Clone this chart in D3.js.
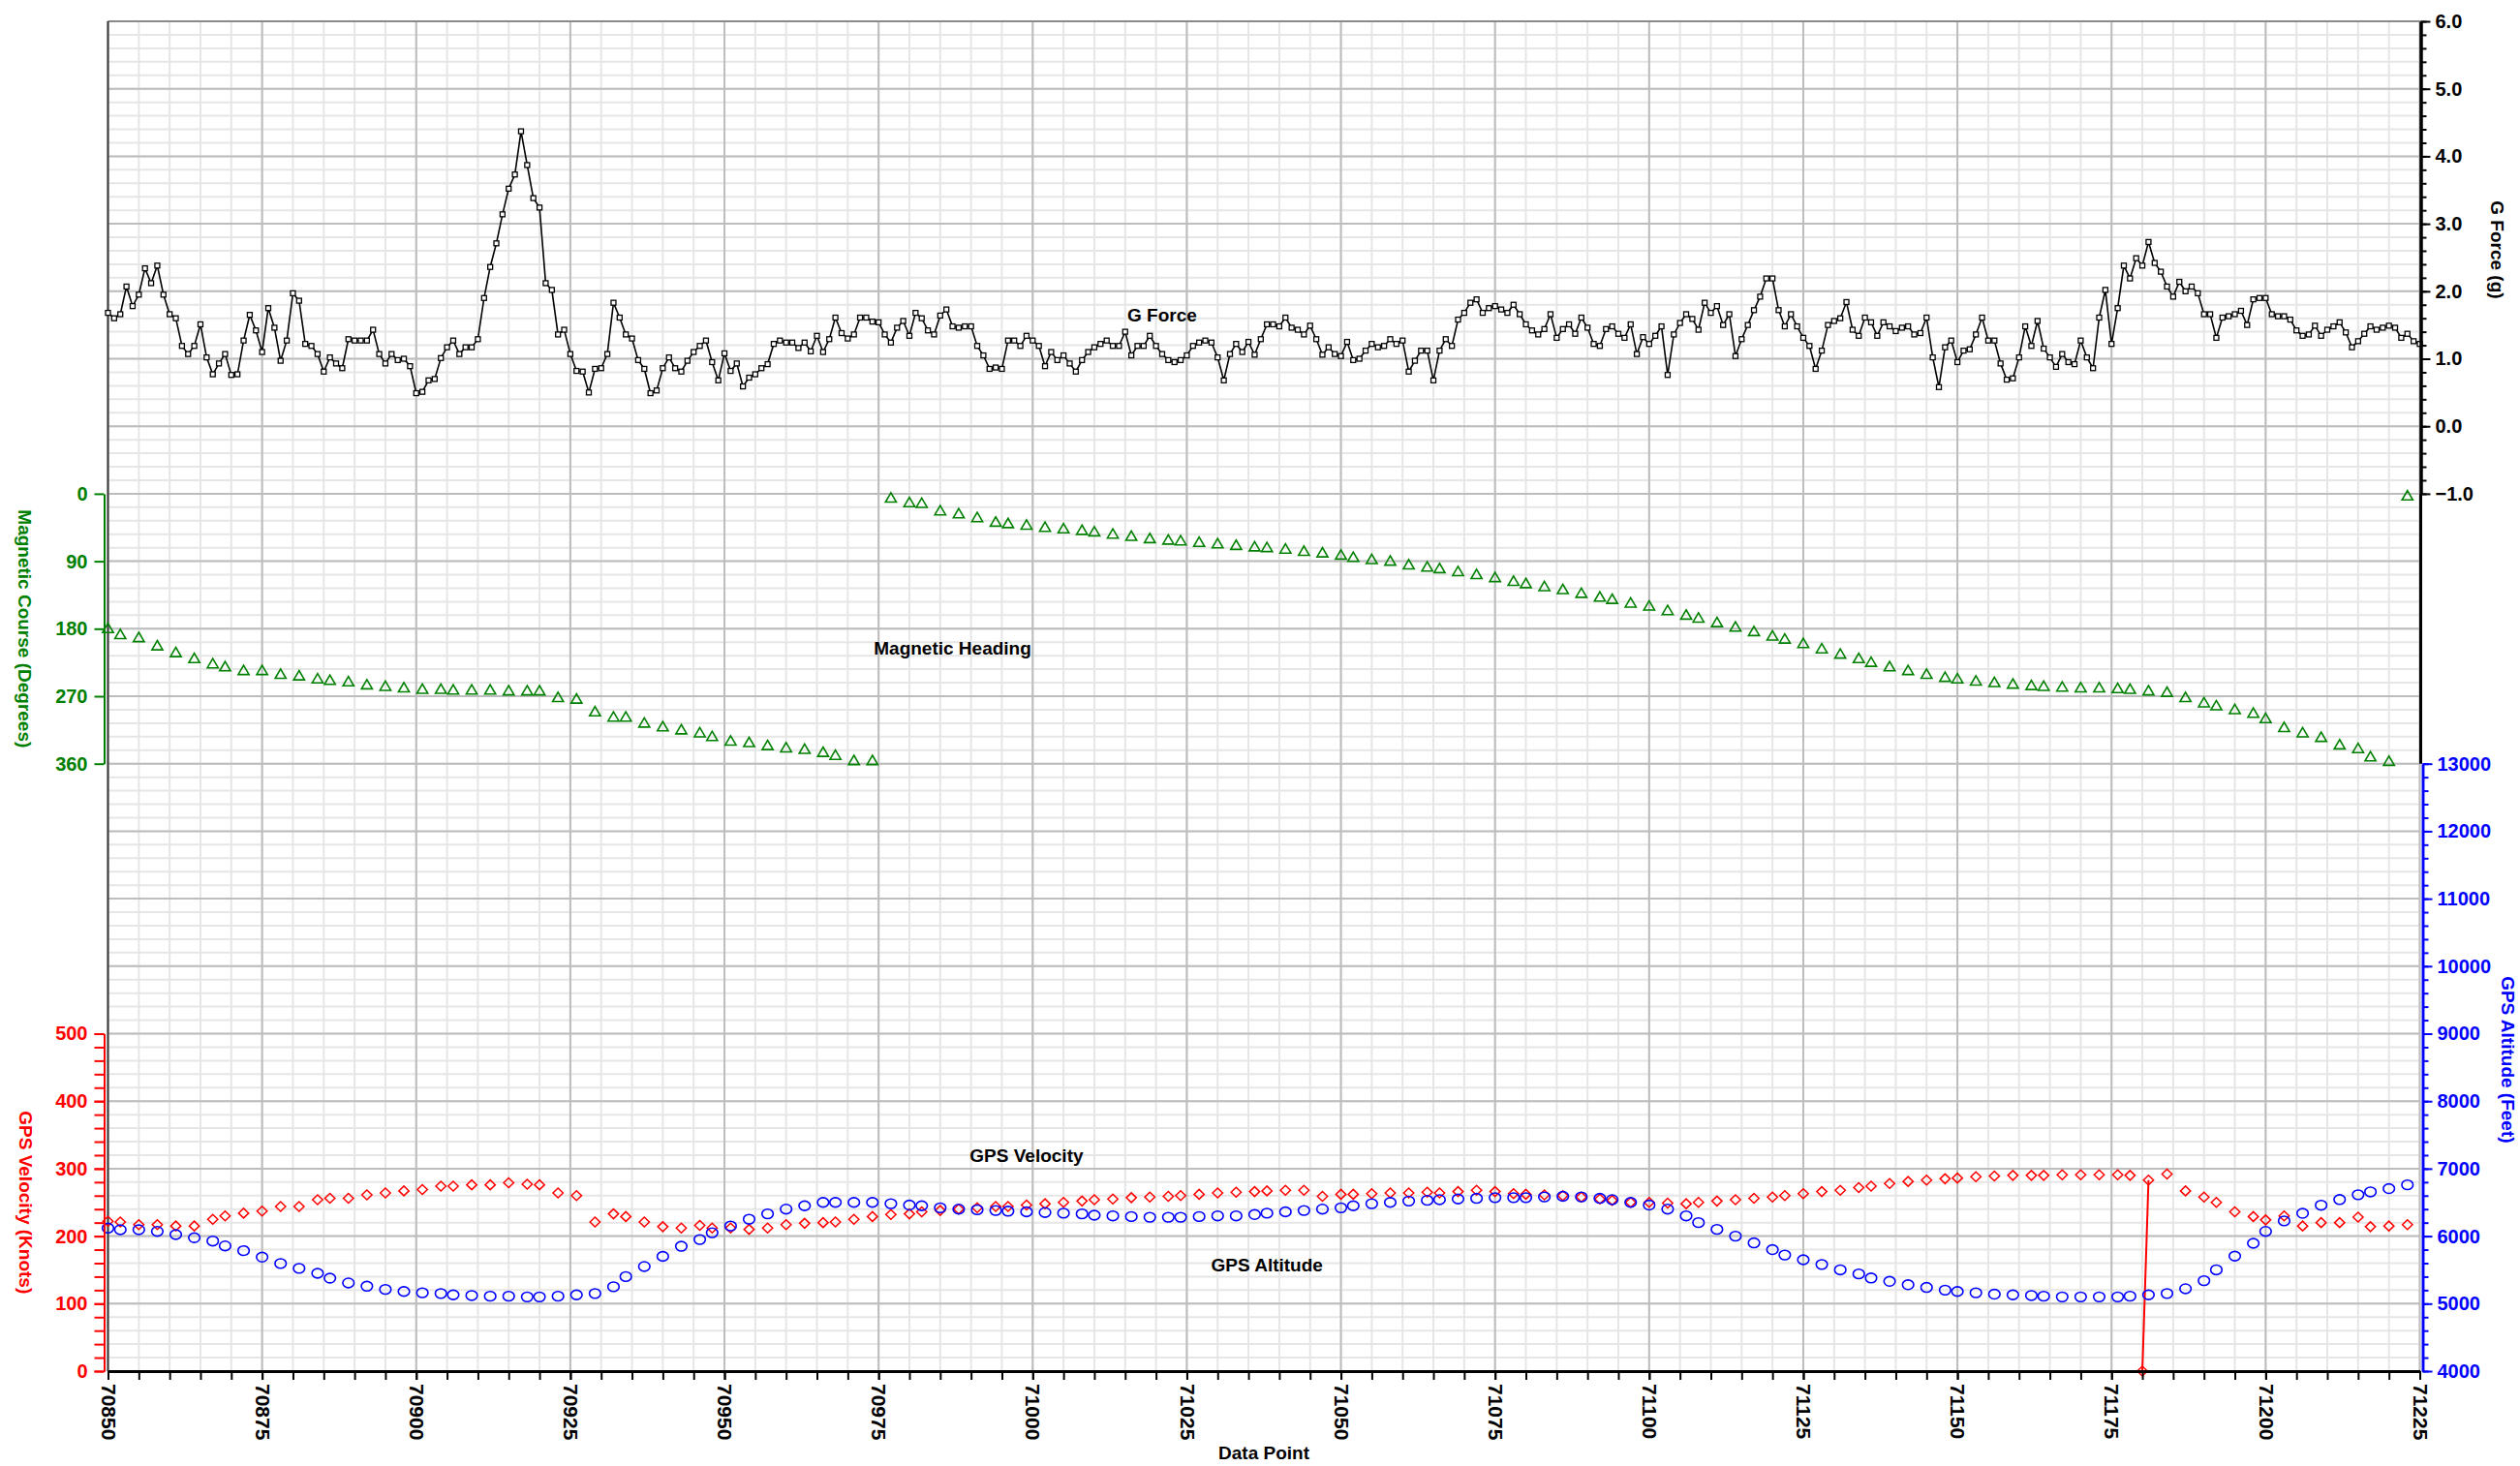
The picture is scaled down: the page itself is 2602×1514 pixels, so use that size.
<!DOCTYPE html>
<html>
<head>
<meta charset="utf-8">
<script src="https://cdn.jsdelivr.net/npm/d3@7"></script>
<style>
  html, body { margin: 0; padding: 0; background: #ffffff; }
  svg { display: block; }
  text { font-family: "Liberation Sans", Arial, sans-serif; font-weight: bold; }
</style>
</head>
<body>
<svg id="chart" width="2602" height="1514"></svg>
<script>
// ---- Data -------------------------------------------------------------

const firstDataPoint = 70850;
const lastDataPoint = 71225;

// G force, one reading per data point (70850 .. 71225)
const gForce = [
  1.68,1.60,1.66,2.07,1.78,1.95,2.34,2.12,2.38,1.95,
  1.66,1.60,1.19,1.07,1.19,1.51,1.02,0.77,0.93,1.07,
  0.76,0.77,1.27,1.65,1.42,1.10,1.75,1.46,0.97,1.27,
  1.97,1.86,1.22,1.19,1.07,0.81,1.02,0.93,0.86,1.29,
  1.27,1.27,1.27,1.43,1.07,0.93,1.07,0.98,1.00,0.89,
  0.49,0.51,0.68,0.70,1.01,1.17,1.27,1.07,1.17,1.17,
  1.29,1.90,2.36,2.71,3.14,3.52,3.73,4.37,3.87,3.38,
  3.24,2.12,2.02,1.36,1.43,1.07,0.82,0.81,0.50,0.85,
  0.86,1.07,1.83,1.61,1.36,1.30,0.98,0.85,0.49,0.53,
  0.86,1.02,0.86,0.81,0.97,1.10,1.19,1.27,0.95,0.68,
  1.08,0.82,0.93,0.59,0.72,0.77,0.86,0.92,1.22,1.27,
  1.24,1.24,1.16,1.24,1.11,1.34,1.10,1.29,1.61,1.38,
  1.30,1.36,1.61,1.61,1.55,1.54,1.36,1.24,1.46,1.56,
  1.34,1.68,1.60,1.42,1.36,1.64,1.73,1.48,1.46,1.48,
  1.48,1.19,1.05,0.85,0.87,0.85,1.27,1.27,1.19,1.34,
  1.27,1.19,0.89,1.10,0.98,1.05,0.93,0.81,0.98,1.10,
  1.17,1.22,1.27,1.19,1.19,1.40,1.05,1.19,1.19,1.34,
  1.19,1.07,0.98,0.95,0.98,1.05,1.19,1.24,1.27,1.24,
  1.02,0.68,1.07,1.22,1.10,1.25,1.06,1.29,1.51,1.51,
  1.48,1.61,1.46,1.43,1.36,1.49,1.29,1.06,1.17,1.07,
  1.04,1.25,0.98,1.00,1.12,1.22,1.17,1.19,1.29,1.22,
  1.27,0.81,0.97,1.12,1.12,0.68,1.12,1.29,1.19,1.58,
  1.68,1.83,1.88,1.68,1.75,1.78,1.73,1.68,1.80,1.66,
  1.51,1.42,1.36,1.44,1.66,1.31,1.44,1.51,1.37,1.61,
  1.46,1.22,1.19,1.44,1.48,1.37,1.31,1.51,1.07,1.32,
  1.22,1.34,1.48,0.76,1.36,1.53,1.66,1.59,1.43,1.83,
  1.68,1.78,1.50,1.66,1.04,1.29,1.50,1.72,1.92,2.19,
  2.19,1.72,1.48,1.66,1.48,1.31,1.19,0.85,1.12,1.50,
  1.56,1.60,1.84,1.43,1.34,1.61,1.54,1.34,1.54,1.48,
  1.41,1.46,1.48,1.36,1.38,1.61,1.02,0.58,1.17,1.27,
  0.95,1.12,1.14,1.36,1.61,1.27,1.27,0.93,0.69,0.71,
  1.02,1.48,1.19,1.56,1.15,1.02,0.88,1.07,0.95,0.92,
  1.27,1.02,0.86,1.61,2.02,1.22,1.75,2.38,2.19,2.49,
  2.38,2.73,2.42,2.29,2.07,1.92,2.14,2.00,2.07,1.97,
  1.66,1.66,1.31,1.61,1.63,1.66,1.71,1.50,1.88,1.90,
  1.90,1.66,1.63,1.63,1.58,1.42,1.34,1.36,1.49,1.34,
  1.43,1.48,1.54,1.39,1.17,1.26,1.37,1.48,1.43,1.46,
  1.49,1.46,1.31,1.37,1.26,1.22
];

// GPS samples: offset of each sample from the first data point
const gpsOffsets = [
  0,2,5,8,11,14,17,19,22,25,28,31,34,36,39,42,45,48,51,54,
  56,59,62,65,68,70,73,76,79,82,84,87,90,93,96,98,101,104,107,110,
  113,116,118,121,124,127,130,132,135,138,141,144,146,149,152,155,158,160,163,166,
  169,172,174,177,180,183,186,188,191,194,197,200,202,205,208,211,214,216,219,222,
  225,228,230,233,236,239,242,244,247,250,253,256,258,261,264,267,270,272,275,278,
  281,284,286,289,292,295,298,300,303,306,309,312,314,317,320,323,326,328,330,331,
  334,337,340,342,345,348,350,353,356,359,362,365,367,370,373
];

// Magnetic heading (degrees) at each GPS sample
const magneticHeading = [
  180,188,192,203,212,220,227,231,236,236,241,243,247,249,251,255,257,259,261,261,
  262,262,262,263,263,263,272,274,291,298,298,306,311,315,319,324,330,332,336,339,
  341,345,349,356,356,6,12,13,23,27,32,38,40,42,45,47,49,51,54,57,
  60,62,63,65,67,69,71,72,74,77,79,82,85,88,90,95,98,100,104,108,
  112,117,120,124,128,133,138,141,146,150,156,162,166,172,178,184,190,194,200,207,
  214,220,225,231,236,241,245,247,250,252,254,256,257,258,259,259,260,261,null,263,
  265,272,279,283,288,293,300,312,319,325,335,340,351,357,3
];

// GPS velocity (knots) at each GPS sample
const gpsVelocity = [
  222,221,217,217,215,215,225,230,234,237,244,244,254,256,256,261,264,267,269,274,
  274,276,276,279,277,276,264,260,221,233,229,221,214,212,216,212,212,210,212,217,
  219,220,221,225,229,232,233,236,238,240,242,244,244,246,248,250,252,254,255,257,
  258,259,260,262,264,265,266,267,268,268,259,262,262,263,264,264,265,264,266,268,
  266,263,262,261,260,258,255,253,250,250,249,248,250,252,254,256,258,260,263,266,
  268,272,274,278,281,283,285,286,288,289,290,290,290,291,291,291,291,290,0,283,
  292,267,258,250,236,229,224,230,215,220,220,228,214,215,217
];

// GPS altitude (feet) at each GPS sample
const gpsAltitude = [
  6119,6095,6095,6070,6023,5976,5927,5855,5784,5689,5594,5522,5449,5377,5306,5258,5210,5180,5160,5150,
  5130,5120,5110,5110,5100,5100,5110,5130,5150,5250,5400,5550,5700,5850,5950,6050,6150,6250,6330,6400,
  6450,6500,6500,6500,6500,6480,6460,6450,6420,6400,6390,6380,6370,6360,6350,6340,6330,6310,6300,6290,
  6280,6280,6280,6290,6300,6300,6320,6340,6360,6380,6400,6420,6450,6480,6500,6520,6530,6540,6550,6560,
  6570,6570,6570,6580,6590,6580,6560,6540,6500,6460,6400,6300,6200,6100,6000,5900,5800,5720,5650,5580,
  5500,5440,5380,5330,5280,5240,5200,5180,5160,5140,5130,5120,5110,5100,5100,5100,5100,5110,null,5130,
  5150,5220,5340,5500,5704,5894,6070,6225,6338,6458,6542,6613,6655,6704,6760
];

// Axis ticks and labels
const xTickLabels = d3.range(firstDataPoint, lastDataPoint + 1, 25);
const gForceTicks = [-1, 0, 1, 2, 3, 4, 5, 6];
const courseTicks = [0, 90, 180, 270, 360];
const velocityTicks = [0, 100, 200, 300, 400, 500];
const altitudeTicks = [4000, 5000, 6000, 7000, 8000, 9000, 10000, 11000, 12000, 13000];

// Series annotations: [text, data point, value, scale key]
const seriesLabels = [
  ["G Force", 71021, 1.55, "g"],
  ["Magnetic Heading", 70987, 215, "course"],
  ["GPS Velocity", 70999, 310, "velocity"],
  ["GPS Altitude", 71038, 5478, "altitude"]
];

// ---- Layout -----------------------------------------------------------

const plotLeft = 111.5, plotRight = 2498.5, plotTop = 22, plotBottom = 1416;
const unit = (plotBottom - plotTop) / 20;   // one major grid row

const COLORS = { g: "#000000", course: "#008000", velocity: "#ff0000", altitude: "#0000ff" };

const x = d3.scaleLinear().domain([firstDataPoint, lastDataPoint]).range([plotLeft, plotRight]);
const yG = d3.scaleLinear().domain([-1, 6]).range([plotTop + 7 * unit, plotTop]);
const yCourse = d3.scaleLinear().domain([0, 360]).range([plotTop + 7 * unit, plotTop + 11 * unit]);
const yVel = d3.scaleLinear().domain([0, 500]).range([plotBottom, plotBottom - 5 * unit]);
const yAlt = d3.scaleLinear().domain([4000, 13000]).range([plotBottom, plotTop + 11 * unit]);
const rowScale = d3.scaleLinear().domain([0, 20]).range([plotTop, plotBottom]);
const scaleFor = { g: yG, course: yCourse, velocity: yVel, altitude: yAlt };

const svg = d3.select("#chart");

// ---- Grid -------------------------------------------------------------

const grid = svg.append("g").attr("class", "grid");
grid.selectAll("line.vminor")
  .data(d3.range(firstDataPoint, lastDataPoint + 1, 5))
  .join("line").attr("class", "vminor")
  .attr("x1", d => x(d)).attr("x2", d => x(d))
  .attr("y1", plotTop).attr("y2", plotBottom)
  .attr("stroke", "#e6e6e6").attr("stroke-width", 2);
grid.selectAll("line.hminor")
  .data(d3.range(0, 20.001, 0.2))
  .join("line").attr("class", "hminor")
  .attr("x1", plotLeft).attr("x2", plotRight)
  .attr("y1", d => rowScale(d)).attr("y2", d => rowScale(d))
  .attr("stroke", "#e6e6e6").attr("stroke-width", 2);
grid.selectAll("line.vmajor")
  .data(xTickLabels)
  .join("line").attr("class", "vmajor")
  .attr("x1", d => x(d)).attr("x2", d => x(d))
  .attr("y1", plotTop).attr("y2", plotBottom)
  .attr("stroke", "#bdbdbd").attr("stroke-width", 2);
grid.selectAll("line.hmajor")
  .data(d3.range(0, 21, 1))
  .join("line").attr("class", "hmajor")
  .attr("x1", plotLeft).attr("x2", plotRight)
  .attr("y1", d => rowScale(d)).attr("y2", d => rowScale(d))
  .attr("stroke", "#bdbdbd").attr("stroke-width", 2);

// plot frame
svg.append("line").attr("x1", plotLeft).attr("x2", plotRight).attr("y1", plotTop).attr("y2", plotTop)
  .attr("stroke", "#8a8a8a").attr("stroke-width", 2);
svg.append("line").attr("x1", plotLeft).attr("x2", plotLeft).attr("y1", plotTop).attr("y2", plotBottom)
  .attr("stroke", "#3a3a3a").attr("stroke-width", 2);

// ---- Series -----------------------------------------------------------

const gPoints = gForce.map((v, i) => ({ dp: firstDataPoint + i, v }));
svg.append("path")
  .datum(gPoints)
  .attr("fill", "none").attr("stroke", COLORS.g).attr("stroke-width", 1.6)
  .attr("d", d3.line().x(d => x(d.dp)).y(d => yG(d.v)));
svg.append("g").selectAll("rect")
  .data(gPoints)
  .join("rect")
  .attr("x", d => x(d.dp) - 2.5).attr("y", d => yG(d.v) - 2.5)
  .attr("width", 5).attr("height", 5)
  .attr("fill", "#ffffff").attr("stroke", COLORS.g).attr("stroke-width", 1.3);

function gpsSeries(values) {
  return gpsOffsets.map((o, i) => ({ dp: firstDataPoint + o, v: values[i] }))
    .filter(d => d.v !== null);
}

// connect only samples that sit on adjacent data points
function adjacentSegments(points) {
  const segs = [];
  for (let i = 1; i < points.length; i++) {
    if (points[i].dp - points[i - 1].dp === 1) segs.push([points[i - 1], points[i]]);
  }
  return segs;
}

const headingPts = gpsSeries(magneticHeading);
const velocityPts = gpsSeries(gpsVelocity);
const altitudePts = gpsSeries(gpsAltitude);

const lineFor = s => d3.line().x(d => x(d.dp)).y(d => s(d.v));

svg.append("g").selectAll("path")
  .data(adjacentSegments(velocityPts))
  .join("path")
  .attr("fill", "none").attr("stroke", COLORS.velocity).attr("stroke-width", 2)
  .attr("d", lineFor(yVel));

svg.append("g").selectAll("path")
  .data(headingPts)
  .join("path")
  .attr("transform", d => `translate(${x(d.dp)},${yCourse(d.v)})`)
  .attr("d", "M0,-5.6L5.6,4L-5.6,4Z")
  .attr("fill", "none").attr("stroke", COLORS.course).attr("stroke-width", 1.6);

svg.append("g").selectAll("path")
  .data(velocityPts)
  .join("path")
  .attr("transform", d => `translate(${x(d.dp)},${yVel(d.v)})`)
  .attr("d", "M0,-5L5.2,0L0,5L-5.2,0Z")
  .attr("fill", "none").attr("stroke", COLORS.velocity).attr("stroke-width", 1.5);

svg.append("g").selectAll("ellipse")
  .data(altitudePts)
  .join("ellipse")
  .attr("cx", d => x(d.dp)).attr("cy", d => yAlt(d.v))
  .attr("rx", 5.8).attr("ry", 4.9)
  .attr("fill", "none").attr("stroke", COLORS.altitude).attr("stroke-width", 1.6);

// ---- Axes -------------------------------------------------------------

function styleAxis(g, color, lineWidth) {
  g.selectAll("path.domain").attr("stroke", color).attr("stroke-width", lineWidth);
  g.selectAll(".tick line").attr("stroke", color).attr("stroke-width", 2);
  g.selectAll(".tick text").attr("fill", color)
    .style("font-family", '"Liberation Sans", Arial, sans-serif')
    .style("font-weight", "bold").style("font-size", "20px");
}

// X axis (bottom)
const xMinor = svg.append("g").attr("transform", `translate(0,${plotBottom})`)
  .call(d3.axisBottom(x).tickValues(d3.range(firstDataPoint, lastDataPoint + 1, 5)).tickSize(9).tickFormat("").tickSizeOuter(0));
styleAxis(xMinor, "#000", 3);
const xAxis = svg.append("g").attr("transform", `translate(0,${plotBottom})`)
  .call(d3.axisBottom(x).tickValues(xTickLabels).tickSize(9).tickFormat(d3.format("d")).tickSizeOuter(0));
styleAxis(xAxis, "#000", 3);
xAxis.selectAll(".tick text")
  .style("font-size", "21px")
  .attr("transform", "rotate(90)")
  .attr("x", 13).attr("y", 0).attr("dy", "0.35em")
  .attr("text-anchor", "start");

// G force axis (right, top band)
const gMinor = svg.append("g").attr("transform", `translate(${plotRight + 1},0)`)
  .call(d3.axisRight(yG).tickValues(d3.range(-1, 6.001, 0.2)).tickSize(6).tickFormat("").tickSizeOuter(0));
styleAxis(gMinor, "#000", 3);
const gAxis = svg.append("g").attr("transform", `translate(${plotRight + 1},0)`)
  .call(d3.axisRight(yG).tickValues(gForceTicks).tickSize(10).tickPadding(5).tickFormat(d3.format(".1f")).tickSizeOuter(0));
styleAxis(gAxis, "#000", 3);
// frame continues down to the top of the altitude axis
svg.append("line").attr("x1", plotRight + 1).attr("x2", plotRight + 1)
  .attr("y1", yG(-1)).attr("y2", yAlt(13000)).attr("stroke", "#000").attr("stroke-width", 3);

// Magnetic course axis (left)
const courseAxis = svg.append("g").attr("transform", `translate(${plotLeft - 4},0)`)
  .call(d3.axisLeft(yCourse).tickValues(courseTicks).tickSize(10).tickPadding(7).tickFormat(d3.format("d")).tickSizeOuter(0));
styleAxis(courseAxis, COLORS.course, 2);

// GPS velocity axis (left)
const velMinor = svg.append("g").attr("transform", `translate(${plotLeft - 4},0)`)
  .call(d3.axisLeft(yVel).tickValues(d3.range(0, 501, 20)).tickSize(10).tickFormat("").tickSizeOuter(0));
styleAxis(velMinor, COLORS.velocity, 2);
const velAxis = svg.append("g").attr("transform", `translate(${plotLeft - 4},0)`)
  .call(d3.axisLeft(yVel).tickValues(velocityTicks).tickSize(10).tickPadding(7).tickFormat(d3.format("d")).tickSizeOuter(0));
styleAxis(velAxis, COLORS.velocity, 2);

// GPS altitude axis (right)
const altMinor = svg.append("g").attr("transform", `translate(${plotRight + 3},0)`)
  .call(d3.axisRight(yAlt).tickValues(d3.range(4000, 13001, 200)).tickSize(6).tickFormat("").tickSizeOuter(0));
styleAxis(altMinor, COLORS.altitude, 2.5);
const altAxis = svg.append("g").attr("transform", `translate(${plotRight + 3},0)`)
  .call(d3.axisRight(yAlt).tickValues(altitudeTicks).tickSize(10).tickPadding(5).tickFormat(d3.format("d")).tickSizeOuter(0));
styleAxis(altAxis, COLORS.altitude, 2.5);

// ---- Axis titles ------------------------------------------------------

function verticalTitle(text, cx, cy, color) {
  svg.append("text")
    .attr("transform", `translate(${cx},${cy}) rotate(90)`)
    .attr("text-anchor", "middle").attr("dy", "0.35em")
    .attr("fill", color).style("font-size", "19px")
    .text(text);
}
verticalTitle("Magnetic Course (Degrees)", 26, (yCourse(0) + yCourse(360)) / 2, COLORS.course);
verticalTitle("GPS Velocity (Knots)", 27, (yVel(0) + yVel(500)) / 2, COLORS.velocity);
verticalTitle("G Force (g)", 2579, (yG(6) + yG(-1)) / 2 - 8, COLORS.g);
verticalTitle("GPS Altitude (Feet)", 2590, (yAlt(4000) + yAlt(13000)) / 2 - 8, COLORS.altitude);

svg.append("text")
  .attr("x", (plotLeft + plotRight) / 2).attr("y", 1507)
  .attr("text-anchor", "middle").attr("fill", "#000").style("font-size", "19px")
  .text("Data Point");

// ---- Series labels ----------------------------------------------------

svg.append("g").selectAll("text")
  .data(seriesLabels)
  .join("text")
  .attr("x", d => x(d[1])).attr("y", d => scaleFor[d[3]](d[2]))
  .attr("text-anchor", "middle").attr("fill", "#000").style("font-size", "19px")
  .text(d => d[0]);
</script>
</body>
</html>
